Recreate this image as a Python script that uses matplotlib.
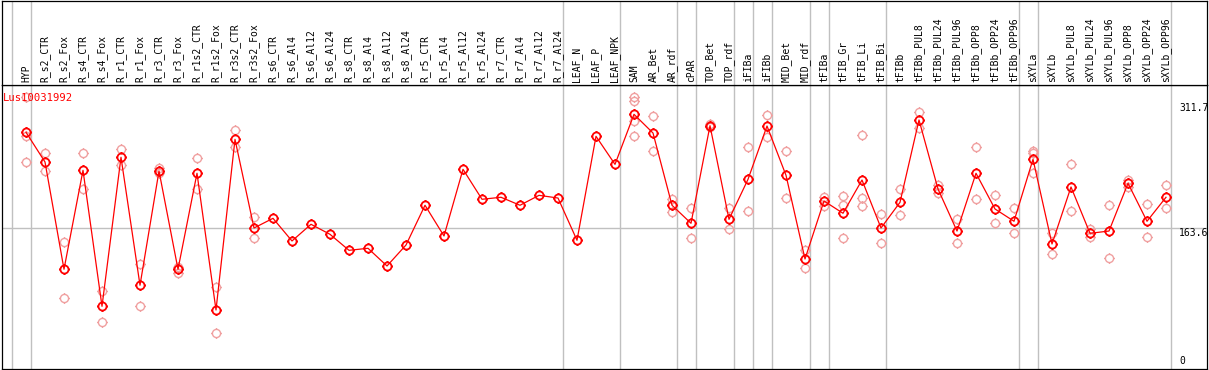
import numpy as np
import matplotlib
matplotlib.use("Agg")
import matplotlib.pyplot as plt
from matplotlib.path import Path
from matplotlib.transforms import blended_transform_factory

# kategori sampel
labels = ["HYP", "R_s2_CTR", "R_s2_Fox", "R_s4_CTR", "R_s4_Fox", "R_r1_CTR", "R_r1_Fox",
          "R_r3_CTR", "R_r3_Fox", "R_r1s2_CTR", "R_r1s2_Fox", "R_r3s2_CTR", "R_r3s2_Fox",
          "R_s6_CTR", "R_s6_Al4", "R_s6_Al12", "R_s6_Al24", "R_s8_CTR", "R_s8_Al4",
          "R_s8_Al12", "R_s8_Al24", "R_r5_CTR", "R_r5_Al4", "R_r5_Al12", "R_r5_Al24",
          "R_r7_CTR", "R_r7_Al4", "R_r7_Al12", "R_r7_Al24", "LEAF_N", "LEAF_P", "LEAF_NPK",
          "SAM", "AR_Bet", "AR_rdf", "cPAR", "TOP_Bet", "TOP_rdf", "iFIBa", "iFIBb",
          "MID_Bet", "MID_rdf", "tFIBa", "tFIB_Gr", "tFIB_Li", "tFIB_Bi", "tFIBb",
          "tFIBb_PUL8", "tFIBb_PUL24", "tFIBb_PUL96", "tFIBb_OPP8", "tFIBb_OPP24",
          "tFIBb_OPP96", "sXYLa", "sXYLb", "sXYLb_PUL8", "sXYLb_PUL24", "sXYLb_PUL96",
          "sXYLb_OPP8", "sXYLb_OPP24", "sXYLb_OPP96"]

# nilai rata-rata (garis merah)
means = [277.3, 242.0, 114.6, 232.1, 70.6, 247.6, 95.6, 231.3, 114.6, 228.6, 66.2, 268.9,
         163.6, 175.1, 148.2, 168.0, 156.1, 137.1, 139.5, 118.5, 143.4, 190.6, 154.1, 233.3,
         197.7, 200.1, 190.6, 202.4, 199.2, 149.0, 272.5, 239.2, 298.6, 276.4, 190.6, 169.2,
         285.1, 173.9, 221.4, 284.7, 226.2, 126.8, 195.7, 181.1, 220.6, 163.6, 194.1, 291.9,
         209.9, 160.0, 228.6, 186.2, 171.6, 245.2, 144.6, 212.3, 157.3, 160.0, 216.7, 171.6,
         200.1]

# nilai ulangan (lingkaran merah muda): indeks sampel dan nilainya
rep_idx = [0, 0, 0, 1, 1, 2, 2, 3, 3, 4, 4, 5, 5, 6, 6, 7, 7, 8, 8, 9, 9, 10, 10, 11, 11,
           12, 12, 32, 32, 32, 32, 33, 33, 34, 34, 35, 35, 36, 36, 37, 37, 38, 38, 39, 39,
           40, 40, 41, 41, 42, 42, 43, 43, 43, 44, 44, 44, 45, 45, 46, 46, 47, 47, 48, 48,
           49, 49, 50, 50, 51, 51, 52, 52, 53, 53, 53, 54, 54, 55, 55, 56, 56, 57, 57, 58, 58,
           59, 59, 60, 60]
rep_val = [318.8, 272.9, 242.0, 252.3, 230.9, 147.3, 80.1, 252.3, 210.3, 88.4, 51.6,
           257.1, 238.4, 121.2, 70.6, 235.2, 228.6, 117.6, 110.5, 246.4, 210.3, 93.9, 38.5,
           280.0, 259.8, 176.7, 151.4, 318.8, 314.8, 291.0, 272.5, 296.6, 255.0, 198.0, 182.2,
           187.4, 151.4, 287.1, 283.2, 187.4, 162.1, 259.4, 183.8, 297.4, 271.7, 254.7, 199.2,
           137.5, 115.7, 200.1, 189.7, 201.2, 190.6, 151.4, 273.7, 199.2, 190.1, 179.9, 145.4,
           209.9, 178.7, 301.0, 282.4, 214.7, 204.8, 173.9, 145.4, 259.8, 197.7, 202.4, 169.2,
           187.0, 157.3, 255.4, 252.3, 228.6, 157.3, 132.7, 239.6, 183.8, 162.1, 153.3, 190.6,
           128.0, 220.6, 211.9, 191.7, 152.6, 214.3, 187.0]

# batas kelompok (garis abu-abu vertikal sesudah indeks ini)
group_end = [-1, 0, 28, 31, 34, 35, 37, 38, 39, 41, 42, 45, 52, 53, 60]
ref_level = 163.6
max_level = 311.7
gene = "Lus10031992"

mono = "DejaVu Sans Mono"
W, H = 1209, 370
fig = plt.figure(figsize=(W / 100, H / 100), dpi=100)

# posisi piksel area plot
px_l, px_r, px_t, px_b, px_hdr = 1.5, 1207.0, 85.0, 369.0, 0.5
ax = fig.add_axes([px_l / W, (H - px_b) / H, (px_r - px_l) / W, (px_b - px_t) / H])
hax = fig.add_axes([px_l / W, (H - px_t) / H, (px_r - px_l) / W, (px_t - px_hdr) / H], sharex=ax)

x = np.arange(len(labels))
ax.set_xlim((px_l - 26) / 19, (px_r - 26) / 19)
ax.set_ylim(163.6 - (px_b - 228) / 0.842, 163.6 + (228 - px_t) / 0.842)
hax.set_ylim(0, 1)

# penanda lingkaran dengan tanda kecil
circ = Path.circle((0, 0), 1.0)
ticks = [Path([(0, 1), (0, 1.3)]), Path([(0, -1), (0, -1.3)]),
         Path([(1, 0), (1.3, 0)]), Path([(-1, 0), (-1.3, 0)])]
mk = Path.make_compound_path(circ, *ticks)

for a in (ax, hax):
    a.set_xticks([])
    a.set_yticks([])
    for s in a.spines.values():
        s.set_color("black")
        s.set_linewidth(0.9)
    for g in group_end:
        a.axvline(g + 0.24, color="#c0c0c0", lw=1.0, zorder=0)

ax.axhline(ref_level, color="#c0c0c0", lw=1.0, zorder=0)

ax.plot(rep_idx, rep_val, linestyle="none", marker=mk, markersize=7.6,
        markerfacecolor="none", markeredgecolor="#f0a0a0", markeredgewidth=1.0, zorder=2)
ax.plot(x, means, color="#ff0000", lw=0.9, marker=mk, markersize=7.6,
        markerfacecolor="none", markeredgecolor="#ff0000", markeredgewidth=1.3, zorder=3)

for i, lab in enumerate(labels):
    hax.text(i, 0.03, lab, rotation=90, ha="center", va="bottom",
             fontsize=7, family=mono, color="black")

ax.text(0.0012, 0.972, gene, transform=ax.transAxes, ha="left", va="top",
        fontsize=7.6, family=mono, color="red")

tr = blended_transform_factory(ax.transAxes, ax.transData)
ax.text(0.9768, max_level, f"{max_level}", transform=tr, ha="left", va="top",
        fontsize=7, family=mono)
ax.text(0.9768, ref_level, f"{ref_level}", transform=tr, ha="left", va="top",
        fontsize=7, family=mono)
ax.text(0.9768, 0, "0", transform=tr, ha="left", va="bottom", fontsize=7, family=mono)

fig.savefig("out.png", dpi=100)
